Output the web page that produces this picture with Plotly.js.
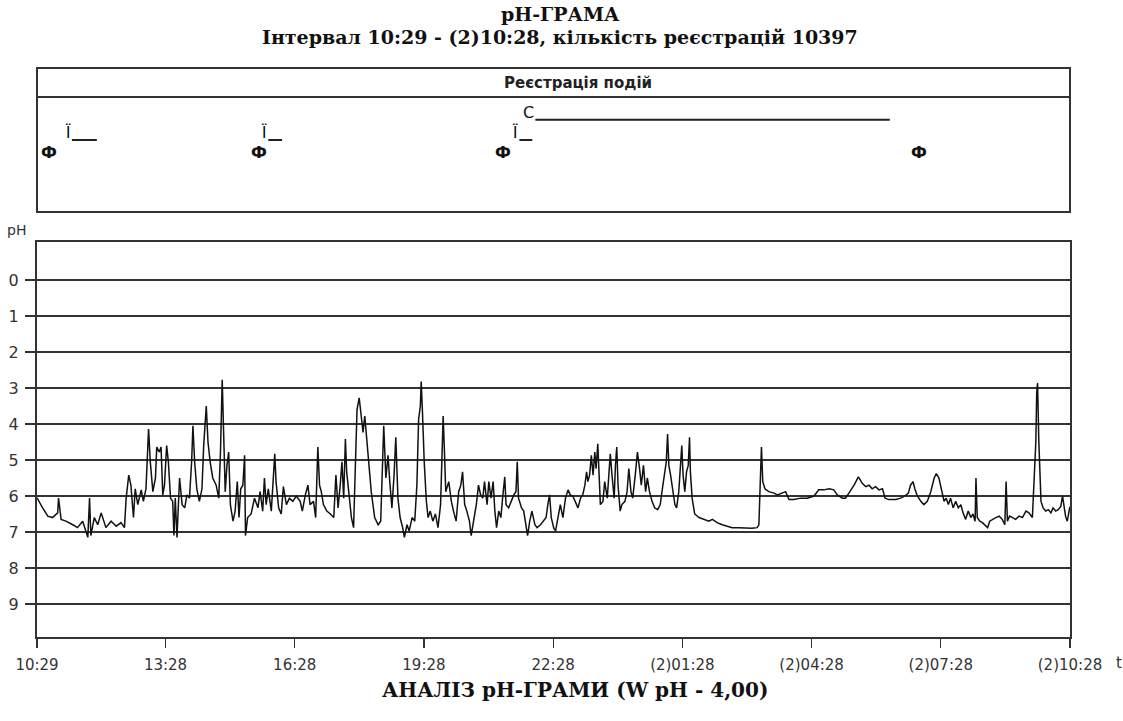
<!DOCTYPE html>
<html><head><meta charset="utf-8">
<script src="https://cdn.plot.ly/plotly-3.0.1.min.js"></script>
<style>html,body{margin:0;padding:0;background:#fff;}#chart{width:1123px;height:721px;}</style>
</head><body><div id="chart"></div>
<script>
// pH readings: [hours since 10:29, pH]
const phSeg1 = [[0,6.05],[0.02,6.1],[0.13,6.33],[0.25,6.56],[0.36,6.6],[0.48,6.47],[0.50,6.06],[0.56,6.65],[0.67,6.7],[0.83,6.8],
[0.94,6.88],[1.06,6.7],[1.14,7.0],[1.18,7.15],[1.22,6.06],[1.25,7.1],[1.33,6.6],[1.41,6.8],[1.49,6.47],[1.60,6.88],
[1.72,6.7],[1.84,6.84],[1.95,6.74],[2.03,6.88],[2.07,6.06],[2.13,5.42],[2.18,5.7],[2.24,6.6],[2.28,5.8],[2.34,6.24],
[2.42,5.83],[2.47,6.15],[2.53,5.8],[2.59,4.14],[2.63,5.05],[2.69,5.88],[2.75,5.5],[2.78,4.64],[2.84,4.78],[2.88,4.64],
[2.92,5.97],[2.96,5.7],[3.01,4.6],[3.05,5.05],[3.10,6.06],[3.15,6.15],[3.18,7.1],[3.21,6.06],[3.25,7.15],[3.31,5.5],
[3.37,6.24],[3.43,6.33],[3.48,5.97],[3.54,6.06],[3.59,5.05],[3.62,4.05],[3.66,5.05],[3.71,5.8],[3.77,6.15],[3.83,5.8],
[3.87,4.6],[3.93,3.5],[3.97,4.5],[4.02,5.05],[4.08,5.5],[4.16,5.7],[4.22,6.06],[4.26,4.78],[4.30,2.77],[4.33,4.23],
[4.37,5.88],[4.41,5.15],[4.45,4.78],[4.49,6.24],[4.55,6.7],[4.60,6.42],[4.65,5.6],[4.69,6.6],[4.73,5.8],[4.78,5.7],
[4.82,4.87],[4.84,7.1],[4.89,6.6],[4.97,6.5],[5.05,6.06],[5.13,6.33],[5.18,5.88],[5.24,6.42],[5.28,5.5],[5.32,6.24],
[5.37,5.8],[5.44,6.42],[5.49,5.5],[5.52,4.83],[5.55,5.6],[5.61,6.33],[5.67,6.5],[5.72,5.74],[5.79,6.24],[5.86,6.06],
[5.94,6.15],[6.02,6.0]];
const phSeg2 = [[6.11,6.15],[6.16,6.42],[6.23,5.97],[6.29,5.7],[6.34,6.24],[6.42,6.15],[6.47,6.6],[6.52,4.64],[6.56,5.7],[6.60,5.88],
[6.65,6.24],[6.73,6.42],[6.81,6.5],[6.89,6.6],[6.94,5.42],[6.99,6.33],[7.04,5.7],[7.08,5.05],[7.12,6.06],[7.16,4.42],
[7.19,5.33],[7.25,6.06],[7.30,6.6],[7.35,6.88],[7.39,5.15],[7.43,3.6],[7.48,3.27],[7.53,3.78],[7.57,4.23],[7.61,3.78],
[7.64,4.23],[7.70,5.05],[7.76,5.88],[7.84,6.6],[7.92,6.8],[7.98,6.7],[8.02,5.42],[8.05,4.05],[8.10,5.5],[8.15,4.87],
[8.19,5.6],[8.24,6.33],[8.29,5.42],[8.33,4.37],[8.38,6.06],[8.43,6.6],[8.49,6.88],[8.53,7.15],[8.59,6.8],[8.64,6.97],
[8.71,6.6],[8.77,6.7],[8.82,5.7],[8.86,3.87],[8.90,3.5],[8.92,2.82],[8.95,3.69],[8.99,5.05],[9.04,6.15],[9.08,6.6],
[9.13,6.42],[9.19,6.7],[9.25,6.5],[9.31,6.88],[9.37,6.24],[9.40,4.78],[9.43,3.78],[9.46,4.78],[9.49,5.88],[9.56,5.6],
[9.62,6.15],[9.67,6.42],[9.73,6.7],[9.79,5.88],[9.84,5.7],[9.88,5.33],[9.93,6.24],[9.98,6.42],[10.04,6.7],[10.08,7.1],
[10.14,6.7],[10.20,6.24],[10.25,5.7],[10.30,5.97],[10.35,6.06],[10.39,5.6],[10.45,6.24],[10.49,5.6],[10.54,6.06],[10.59,5.6],
[10.63,6.42],[10.67,6.88],[10.72,6.42],[10.77,6.6],[10.81,6.06],[10.86,5.47],[10.89,6.24],[10.95,6.33],[11.01,6.15],[11.07,5.97],
[11.12,5.88],[11.15,5.05],[11.18,6.06],[11.25,6.33],[11.30,6.42],[11.35,6.8],[11.39,7.1],[11.44,6.7],[11.49,6.42],[11.56,6.8],
[11.61,6.88],[11.69,6.8],[11.76,6.7],[11.82,6.6],[11.86,6.24],[11.90,5.97],[11.94,6.6],[12.00,6.9]];
const phSeg3 = [[12.04,6.97],[12.10,6.5],[12.15,6.24],[12.21,6.6],[12.27,6.06],[12.33,5.83],[12.38,5.97],[12.44,6.0],[12.50,6.15],[12.56,6.33],
[12.62,6.06],[12.67,5.97],[12.72,5.7],[12.76,5.33],[12.79,5.6],[12.83,5.42],[12.87,4.87],[12.91,5.42],[12.95,4.78],[12.98,5.24],
[13.02,4.55],[13.05,5.33],[13.08,6.24],[13.14,6.15],[13.18,5.6],[13.24,6.06],[13.27,5.5],[13.31,4.83],[13.35,5.42],[13.40,6.06],
[13.43,5.15],[13.46,4.64],[13.49,5.7],[13.54,6.42],[13.58,6.24],[13.65,6.15],[13.70,5.88],[13.74,5.24],[13.79,5.88],[13.83,6.06],
[13.89,5.42],[13.94,4.78],[13.99,5.24],[14.03,5.7],[14.08,5.15],[14.13,5.88],[14.17,5.5],[14.22,5.88],[14.28,6.15],[14.34,6.33],
[14.41,6.38],[14.47,6.24],[14.51,5.88],[14.56,5.42],[14.61,5.05],[14.64,4.28],[14.67,5.15],[14.71,5.42],[14.76,5.88],[14.81,6.24],
[14.85,6.33],[14.90,5.88],[14.94,5.15],[14.97,4.6],[15.00,5.42],[15.04,5.88],[15.08,5.33],[15.12,5.15],[15.15,4.37],[15.17,5.33],
[15.21,6.06],[15.27,6.5],[15.37,6.6],[15.48,6.65],[15.60,6.7],[15.68,6.65],[15.79,6.74],[15.91,6.8],[16.02,6.84],[16.14,6.88],
[16.29,6.88],[16.45,6.9],[16.60,6.9],[16.72,6.88],[16.76,6.8],[16.79,5.7],[16.82,4.64],[16.85,5.6],[16.90,5.8],[16.99,5.88],
[17.11,5.92],[17.19,5.97],[17.30,5.92],[17.38,5.88],[17.46,6.1],[17.57,6.1],[17.73,6.06],[17.88,6.06],[18.04,6.0],[18.15,5.83]];
const phSeg4 = [[18.27,5.83],[18.39,5.8],[18.50,5.83],[18.58,5.97],[18.70,6.06],[18.77,6.06],[18.85,5.92],[18.97,5.7],[19.07,5.47],[19.16,5.65],
[19.24,5.74],[19.32,5.7],[19.39,5.8],[19.47,5.74],[19.55,5.83],[19.63,5.8],[19.69,6.06],[19.78,6.1],[19.94,6.1],[20.05,6.06],
[20.15,6.0],[20.23,5.92],[20.28,5.7],[20.34,5.6],[20.38,5.8],[20.44,6.0],[20.52,6.15],[20.59,6.24],[20.67,6.15],[20.75,5.88],
[20.83,5.5],[20.88,5.38],[20.94,5.5],[21.00,5.88],[21.06,6.15],[21.11,6.06],[21.16,6.24],[21.21,6.06],[21.27,6.33],[21.33,6.15],
[21.39,6.33],[21.45,6.24],[21.50,6.47],[21.56,6.65],[21.62,6.42],[21.68,6.6],[21.73,6.5],[21.78,6.7],[21.80,5.5],[21.83,6.6],
[21.89,6.7],[21.95,6.74],[22.01,6.8],[22.07,6.88],[22.12,6.7],[22.18,6.65],[22.26,6.6],[22.34,6.56],[22.41,6.65],[22.47,6.8],
[22.50,5.6],[22.53,6.7],[22.58,6.56],[22.65,6.6],[22.72,6.65],[22.80,6.56],[22.88,6.6],[22.96,6.42],[23.03,6.47],[23.11,6.6],
[23.15,5.7],[23.19,4.5],[23.21,3.14],[23.23,2.86],[23.26,4.5],[23.28,5.15],[23.31,6.15],[23.36,6.33],[23.42,6.42],[23.48,6.38],
[23.54,6.47],[23.59,6.33],[23.65,6.42],[23.71,6.38],[23.77,6.29],[23.81,6.0],[23.85,6.42],[23.88,6.56],[23.92,6.7],[23.96,6.42],[23.98,6.3]];

// Event registrations (hours since 10:29)
const eventF = [0.28, 5.16, 10.83, 20.47];          // "Ф"
const mealStart = [0.81, 5.37, 11.20];               // "Ї"
const mealEnd = [1.39, 5.69, 11.50];
const sleepStart = [11.57];                          // "С"
const sleepEnd = [19.80];

const xTickText = ['10:29','13:28','16:28','19:28','22:28','(2)01:28','(2)04:28','(2)07:28','(2)10:28'];
const yTicks = [0,1,2,3,4,5,6,7,8,9];

// derived
const startMin = 10*60+29;
function labelToHours(s){
  let day = 0, t = s;
  const m = s.match(/^\((\d)\)(.*)$/);
  if (m){ day = parseInt(m[1])-1; t = m[2]; }
  const [hh, mm] = t.split(':').map(Number);
  return (day*1440 + hh*60 + mm - startMin)/60;
}
const xTickVals = xTickText.map(labelToHours);
const allPh = phSeg1.concat(phSeg2, phSeg3, phSeg4);
const phX = allPh.map(p=>p[0]), phY = allPh.map(p=>p[1]);

const ROW_SLEEP = 0.64, ROW_MEAL = 0.50, ROW_F = 0.41;
function segs(a, b, row){
  const x=[], y=[];
  a.forEach((s,i)=>{ x.push(s, b[i], null); y.push(row,row,null); });
  return {x,y};
}
const meal = segs(mealStart, mealEnd, ROW_MEAL);
const sleep = segs(sleepStart, sleepEnd, ROW_SLEEP);

const traces = [
  {x: phX, y: phY, type:'scatter', mode:'lines', line:{color:'#111', width:1.5}, xaxis:'x', yaxis:'y', hoverinfo:'skip'},
  {x: meal.x, y: meal.y, type:'scatter', mode:'lines', line:{color:'#222', width:2}, xaxis:'x', yaxis:'y2', hoverinfo:'skip'},
  {x: sleep.x, y: sleep.y, type:'scatter', mode:'lines', line:{color:'#222', width:2}, xaxis:'x', yaxis:'y2', hoverinfo:'skip'}
];

const ann = [];
const serif = 'DejaVu Serif, Liberation Serif, serif';
const sans = 'DejaVu Sans, Liberation Sans, sans-serif';
function paperAnn(text, x, y, font){ ann.push({text, x, y, xref:'paper', yref:'paper', xanchor:'center', yanchor:'middle', showarrow:false, font}); }
paperAnn('<b>pH-ГРАМА</b>', 0.507, 1.095, {family:serif, size:19, color:'#111'});
paperAnn('<b>Інтервал 10:29 - (2)10:28, кількість реєстрацій 10397</b>', 0.506, 1.0545, {family:serif, size:19, color:'#111'});
paperAnn('<b>Реєстрація подій</b>', 0.524, 0.9736, {family:sans, size:15, color:'#222'});
paperAnn('pH', -0.0194, 0.7153, {family:sans, size:14, color:'#333'});
paperAnn('<b>АНАЛІЗ рН-ГРАМИ (W pH - 4,00)</b>', 0.5208, -0.0931, {family:serif, size:20, color:'#111'});
paperAnn('t', 1.0474, -0.0457, {family:sans, size:15, color:'#333'});
eventF.forEach(t=>ann.push({text:'<b>Ф</b>', x:t, y:ROW_F, xref:'x', yref:'y2', xanchor:'center', yanchor:'middle', showarrow:false, font:{family:sans, size:16, color:'#111'}}));
mealStart.forEach(t=>ann.push({text:'Ї', x:t, y:ROW_MEAL, xref:'x', yref:'y2', xanchor:'right', yanchor:'bottom', showarrow:false, font:{family:sans, size:15, color:'#000'}, xshift:1, yshift:-4}));
sleepStart.forEach(t=>ann.push({text:'С', x:t, y:ROW_SLEEP, xref:'x', yref:'y2', xanchor:'right', yanchor:'bottom', showarrow:false, font:{family:sans, size:16, color:'#111'}, xshift:1, yshift:-4}));

const layout = {
  width:1123, height:721,
  margin:{l:37, r:53, t:68, b:84},
  paper_bgcolor:'#fff', plot_bgcolor:'#fff',
  showlegend:false,
  xaxis:{domain:[0,1], range:[0, xTickVals[xTickVals.length-1]], tickvals:xTickVals, ticktext:xTickText,
    ticks:'outside', ticklen:9, tickwidth:1.2, tickcolor:'#333', ticklabelstandoff:4,
    showline:true, linecolor:'#333', linewidth:2, mirror:true, showgrid:false, zeroline:false,
    tickfont:{family:sans, size:15, color:'#333'}, anchor:'y'},
  yaxis:{domain:[0,0.6942], range:[9.92,-1.06], tickvals:yTicks, ticktext:yTicks.map(String),
    ticks:'outside', ticklen:10, tickwidth:1.5, tickcolor:'#333', ticklabelstandoff:3,
    showline:true, linecolor:'#333', linewidth:2, mirror:true, showgrid:true, gridcolor:'#333', gridwidth:2, zeroline:false,
    tickfont:{family:sans, size:16, color:'#333'}, anchor:'x'},
  yaxis2:{domain:[0.747,1], range:[0,1], visible:false, anchor:'x', fixedrange:true},
  shapes:[
    {type:'rect', xref:'paper', yref:'paper', x0:0, x1:1, y0:0.747, y1:1, line:{color:'#333', width:2}},
    {type:'line', xref:'paper', yref:'paper', x0:0, x1:1, y0:0.949, y1:0.949, line:{color:'#333', width:2}}
  ],
  annotations: ann
};
Plotly.newPlot('chart', traces, layout, {staticPlot:true, displayModeBar:false});
</script></body></html>
